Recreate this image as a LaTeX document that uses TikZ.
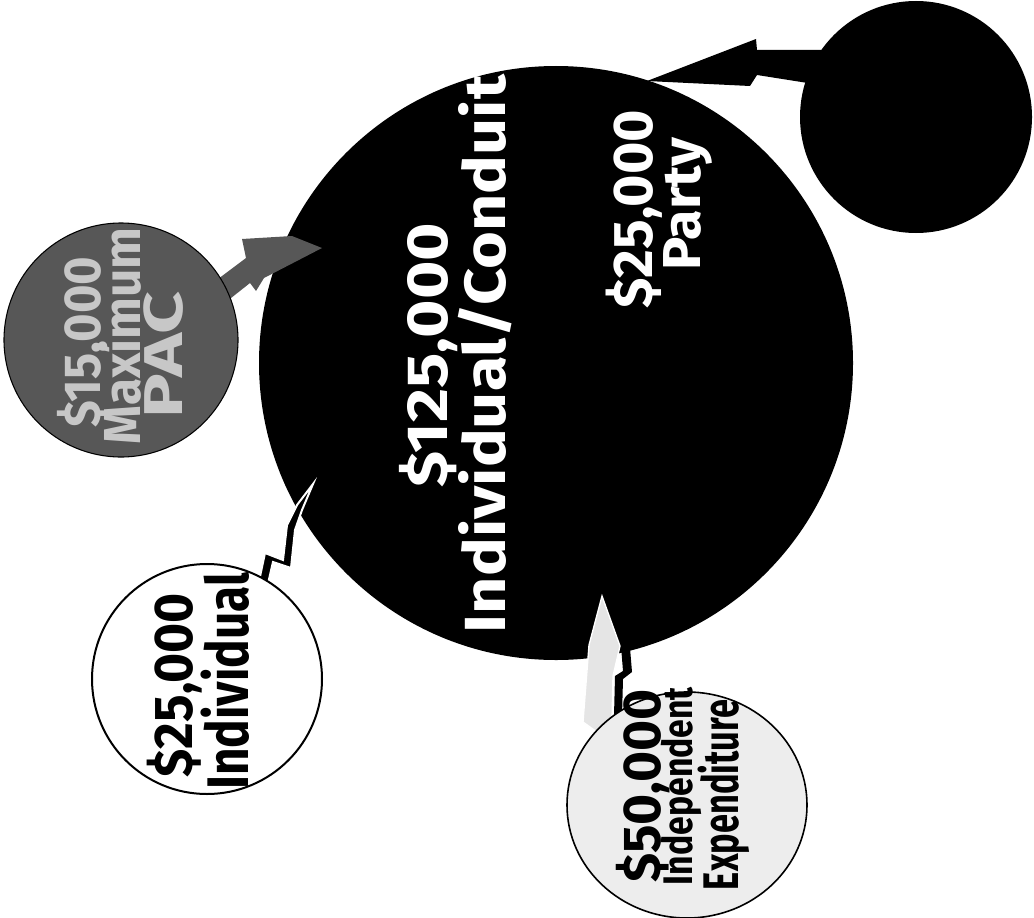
\documentclass[tikz,border=0pt]{standalone}
\usepackage{fontspec}
\setmainfont{Fira Sans}
\usetikzlibrary{shapes.geometric}
\newcommand\fitw[2]{\resizebox{#1}{\height}{#2}}
\begin{document}
\begin{tikzpicture}[x=0.75pt,y=-0.75pt,
  disc/.style={circle,inner sep=0pt,outer sep=0pt},
  lbl/.style={rotate=90,anchor=base,inner sep=0pt},
  fs/.style={font=\bfseries\fontsize{#1}{#1}\selectfont},
  pacgray/.style={fill=black!66},
  halo/.style={draw=white,line width=1.5pt,line join=miter}]
\useasboundingbox (0,0) rectangle (1034,917);
% candidate circle
\node[disc,fill=black,minimum size=445.5pt] (cand) at (556,363) {};
% connectors
\fill[pacgray] (214,282) -- (246,258) -- (242,239) -- (292,236) -- (322,248)
  -- (264,278) -- (256,291) -- (250,283) -- (226,302) -- cycle;
\fill[black] (830,50) -- (757,50) -- (756,39) -- (647,81) -- (750,86) -- (757,75)
  -- (814,84) -- cycle;
\filldraw[fill=black,halo] (258,586) -- (265,553) -- (283,560) -- (287,525) -- (297,505)
  -- (313,484) -- (302,510) -- (295,530) -- (291,568) -- (273,562) -- (267,588) -- cycle;
\filldraw[fill=black!10,halo,line width=1pt] (602,596) -- (620,646) -- (613,676) -- (612,720)
  -- (597,732) -- (583,722) -- (589,645) -- cycle;
\fill[black] (614,716) -- (615,676) -- (623,671) -- (621,646) -- (630,648) -- (632,672)
  -- (623,679) -- (622,716) -- cycle;
% source circles
\node[disc,fill=black,minimum size=174pt] (party) at (916,117) {};
\node[disc,pacgray,draw=black,line width=0.8pt,minimum size=175.5pt] (pac) at (121,340) {};
\node[disc,fill=white,draw=black,line width=1.5pt,minimum size=172.5pt] (indiv) at (207,679) {};
\node[ellipse,inner sep=0pt,fill=black!7,draw=black,line width=1.2pt,
  minimum width=180pt,minimum height=169.5pt] (indep) at (687,805) {};
% labels in the candidate circle
\node[lbl,fs=43.5,text=white] (c1) at (447,355) {\fitw{198pt}{\$125,000}};
\node[lbl,fs=43.5,text=white] (c2) at (505,354) {\fitw{418.5pt}{Individual/Conduit}};
\node[lbl,fs=42,text=white] (c3) at (652,209) {\fitw{148.5pt}{\$25,000}};
\node[lbl,fs=40,text=white] (c4) at (700,204) {\fitw{100pt}{Party}};
% PAC
\node[lbl,fs=39,text=black!22] (p1) at (100,342) {\fitw{128pt}{\$15,000}};
\node[lbl,fs=39,text=black!22] (p2) at (140,336) {\fitw{163pt}{Maximum}};
\node[lbl,fs=41,text=black!22] (p3) at (182,355) {\fitw{95pt}{PAC}};
% Individual
\node[lbl,fs=41] (i1) at (192,685) {\fitw{138pt}{\$25,000}};
\node[lbl,fs=44] (i2) at (248,681) {\fitw{163pt}{Individual}};
% Independent expenditure
\node[lbl,fs=40] (e1) at (660,786) {\fitw{145pt}{\$50,000}};
\node[lbl,fs=31] (e2) at (692,786) {\fitw{148.5pt}{Independent}};
\node[lbl,fs=37.5] (e3) at (738,795) {\fitw{142.5pt}{Expenditure}};
\end{tikzpicture}
\end{document}
